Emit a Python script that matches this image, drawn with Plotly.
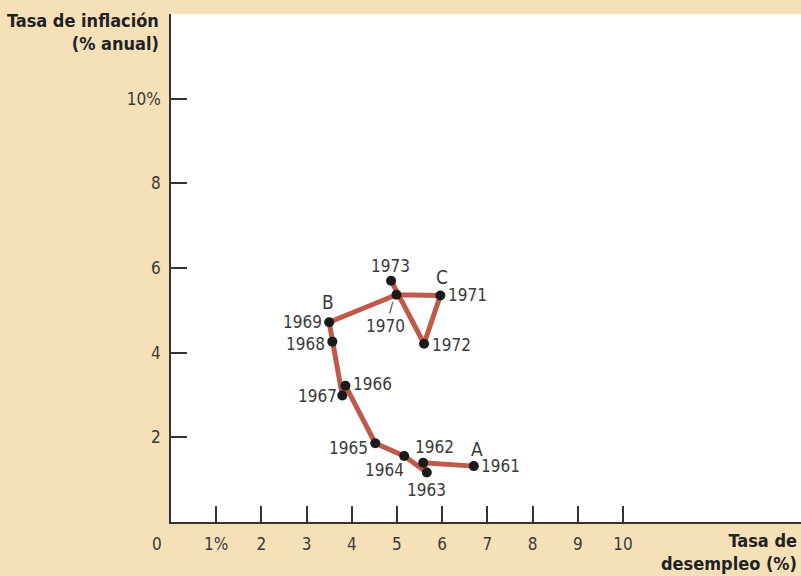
import plotly.graph_objects as go

# Phillips curve data, US 1961-1973
years = [1961, 1962, 1963, 1964, 1965, 1966, 1967, 1968, 1969, 1970, 1971, 1972, 1973]
unemployment = [6.70, 5.58, 5.66, 5.16, 4.52, 3.86, 3.79, 3.57, 3.50, 4.99, 5.96, 5.60, 4.87]
inflation = [1.32, 1.40, 1.17, 1.56, 1.86, 3.22, 2.99, 4.26, 4.72, 5.37, 5.35, 4.21, 5.70]

x_ticks = [1, 2, 3, 4, 5, 6, 7, 8, 9, 10]
x_tick_text = ['1%', '2', '3', '4', '5', '6', '7', '8', '9', '10']
y_ticks = [2, 4, 6, 8, 10]
y_tick_text = ['2', '4', '6', '8', '10%']

point_letters = {1961: 'A', 1969: 'B', 1971: 'C'}

BG = '#F6E0B8'
LINE = '#C0594A'
TEXT = '#3a3a3a'
FONT = 'DejaVu Sans Condensed, sans-serif'

# pixel offsets of the year labels from their points
label_shift = {
    1961: (27, 0), 1962: (11, 16), 1963: (0, -18), 1964: (-20, -14),
    1965: (-27, -5), 1966: (27, 2), 1967: (-25, -1), 1968: (-27, -2),
    1969: (-27, 0), 1970: (-11, -31), 1971: (27, 1), 1972: (27, -1),
    1973: (-1, 15),
}
letter_shift = {1961: (3, 17), 1969: (-1, 20), 1971: (2, 19)}

fig = go.Figure()

fig.add_trace(go.Scatter(
    x=unemployment, y=inflation,
    mode='lines+markers',
    line=dict(color=LINE, width=5),
    marker=dict(color='#1a1a1a', size=10),
    hoverinfo='skip',
    showlegend=False))

for yr, ux, iy in zip(years, unemployment, inflation):
    dx, dy = label_shift[yr]
    fig.add_annotation(x=ux, y=iy, text=str(yr), showarrow=False,
                       xshift=dx, yshift=dy,
                       font=dict(family=FONT, size=17, color=TEXT))
    if yr in point_letters:
        lx, ly = letter_shift[yr]
        fig.add_annotation(x=ux, y=iy, text=point_letters[yr], showarrow=False,
                           xshift=lx, yshift=ly,
                           font=dict(family=FONT, size=19, color=TEXT))

# little slash pointing at 1970
i70 = years.index(1970)
fig.add_annotation(x=unemployment[i70], y=inflation[i70], text='/', showarrow=False,
                   xshift=-5, yshift=-12, font=dict(family=FONT, size=14, color=TEXT))

# origin label
fig.add_annotation(x=0, y=0, xref='x', yref='y', text='0', showarrow=False,
                   xshift=-14, yshift=-22, font=dict(family=FONT, size=17, color=TEXT))

# axis titles
fig.add_annotation(x=0, y=1, xref='paper', yref='paper', xanchor='right', yanchor='top',
                   text='<b>Tasa de inflación<br>(% anual)</b>', showarrow=False, align='right',
                   xshift=-10, yshift=6,
                   font=dict(family=FONT, size=18, color='#222222'))
fig.add_annotation(x=1, y=0, xref='paper', yref='paper', xanchor='right', yanchor='top',
                   text='<b>Tasa de<br>desempleo (%)</b>', showarrow=False, align='right',
                   xshift=-2, yshift=-6,
                   font=dict(family=FONT, size=18, color='#222222'))

axis_style = dict(showline=True, linecolor='#333333', linewidth=1.5,
                  ticks='inside', ticklen=16, tickwidth=1.5, tickcolor='#333333',
                  showgrid=False, zeroline=False,
                  tickfont=dict(family=FONT, size=17, color=TEXT))

fig.update_xaxes(range=[0, 13.94], tickvals=x_ticks, ticktext=x_tick_text,
                 ticklabelstandoff=6, **axis_style)
fig.update_yaxes(range=[0, 12.0], tickvals=y_ticks, ticktext=y_tick_text,
                 ticklabelstandoff=5, **axis_style)

fig.update_layout(
    width=801, height=576,
    paper_bgcolor=BG, plot_bgcolor='white',
    margin=dict(l=171, r=0, t=14, b=54),
    font=dict(family=FONT, color=TEXT))

# drop the page's default body margin so the figure sits at the window corner
fig.write_html("out.html", config={'displayModeBar': False},
               post_script="document.body.style.margin='0';")
